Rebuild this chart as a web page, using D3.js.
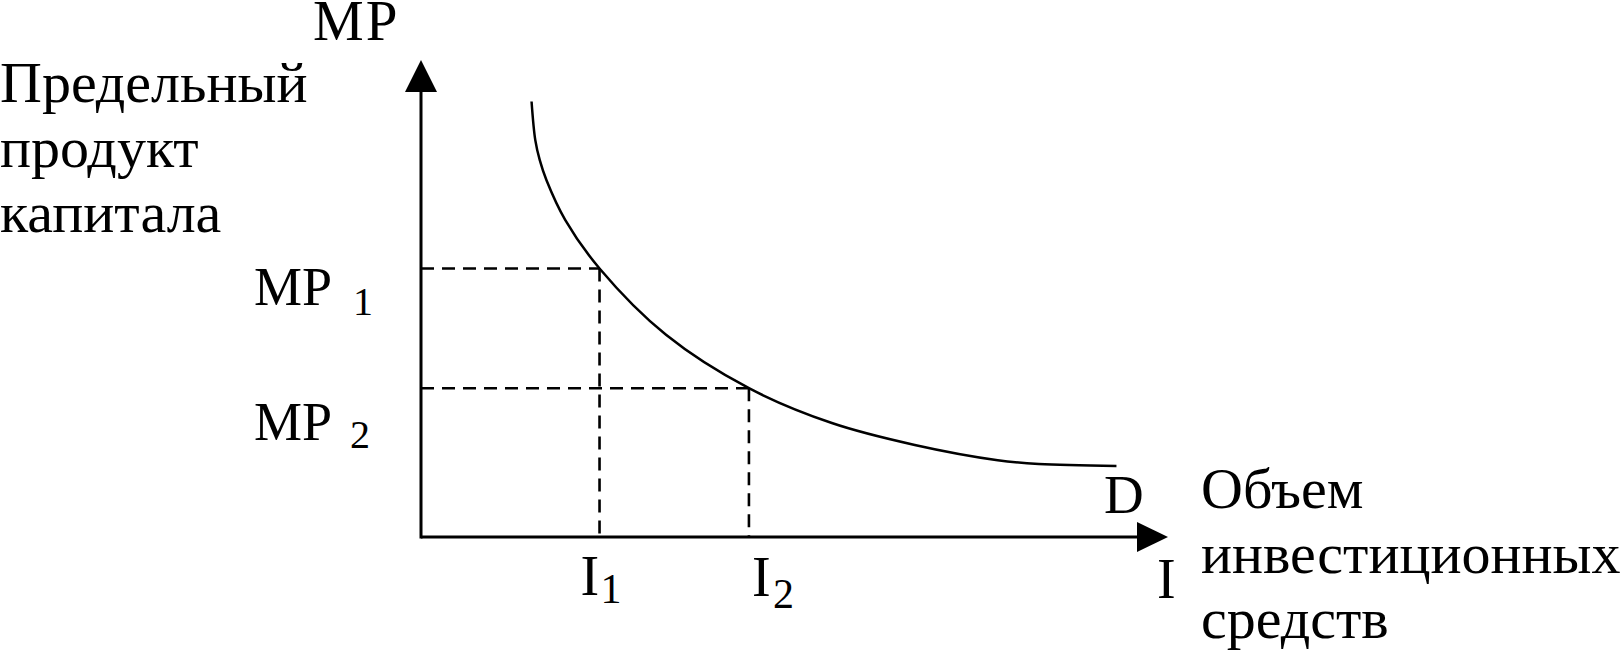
<!DOCTYPE html>
<html><head><meta charset="utf-8">
<script src="https://cdn.jsdelivr.net/npm/d3@7"></script>
<style>html,body{margin:0;padding:0;background:#fff;}svg{display:block;}text{font-family:"Liberation Serif","Times New Roman",serif;fill:#000;}</style>
</head><body>
<script>
// Demand curve for investment (MP of capital vs investment volume), abstract units 0..100
const curveX = [14.8, 15.3, 15.9, 16.8, 19.3, 23.9, 32.8, 43.9, 55.0, 66.1, 77.2, 82.7, 93.1];
const curveY = [91.3, 83.2, 79.0, 74.8, 66.5, 56.3, 42.4, 31.2, 23.9, 19.3, 16.1, 15.3, 14.9];
const investLevels = [23.9, 43.9];   // I1, I2
const mpLevels = [56.3, 31.2];       // MP1, MP2
const yTitleLines = ["Предельный", "продукт", "капитала"];
const xTitleLines = ["Объем", "инвестиционных", "средств"];
const subs = ["1", "2"];

const W = 1623, H = 650;
const svg = d3.select("body").append("svg").attr("width", W).attr("height", H);
const x = d3.scaleLinear().domain([0, 100]).range([421, 1168]);
const y = d3.scaleLinear().domain([0, 100]).range([537, 60]);

// axes
const arrowLen = 31, arrowHalf = 16;
svg.append("line").attr("x1", x(0)).attr("y1", y(0)).attr("x2", x(100) - arrowLen + 2).attr("y2", y(0))
  .attr("stroke", "#000").attr("stroke-width", 3);
svg.append("line").attr("x1", x(0)).attr("y1", y(0) + 1.5).attr("x2", x(0)).attr("y2", y(100) + arrowLen - 2)
  .attr("stroke", "#000").attr("stroke-width", 3);
svg.append("path").attr("d", `M${x(100)},${y(0)} L${x(100) - arrowLen},${y(0) - arrowHalf + 1} L${x(100) - arrowLen},${y(0) + arrowHalf - 1} Z`).attr("fill", "#000");
svg.append("path").attr("d", `M${x(0)},${y(100)} L${x(0) - arrowHalf},${y(100) + arrowLen + 1} L${x(0) + arrowHalf},${y(100) + arrowLen + 1} Z`).attr("fill", "#000");

// dashed guides
investLevels.forEach((iv, k) => {
  const mp = mpLevels[k];
  svg.append("line").attr("x1", x(0)).attr("y1", y(mp)).attr("x2", x(iv)).attr("y2", y(mp))
    .attr("stroke", "#000").attr("stroke-width", 2.6).attr("stroke-dasharray", "13,8");
  svg.append("line").attr("x1", x(iv)).attr("y1", y(mp)).attr("x2", x(iv)).attr("y2", y(0))
    .attr("stroke", "#000").attr("stroke-width", 2.6).attr("stroke-dasharray", "13,8");
});

// curve
const pts = curveX.map((v, i) => [v, curveY[i]]);
svg.append("path").datum(pts)
  .attr("d", d3.line().x(d => x(d[0])).y(d => y(d[1])).curve(d3.curveCatmullRom.alpha(0.5)))
  .attr("fill", "none").attr("stroke", "#000").attr("stroke-width", 2.5);

// texts
svg.append("text").attr("x", 313).attr("y", 40).attr("font-size", 57).attr("letter-spacing", 2).text("MP");
yTitleLines.forEach((t, i) => svg.append("text").attr("x", 0).attr("y", 101.7 + i * 65).attr("font-size", 58).text(t));
xTitleLines.forEach((t, i) => svg.append("text").attr("x", 1201).attr("y", 508 + i * 65).attr("font-size", 58).text(t));

// MP1, MP2 labels
mpLevels.forEach((mp, k) => {
  svg.append("text").attr("x", 254).attr("y", k === 0 ? 305 : 440).attr("font-size", 54).text("MP");
  svg.append("text").attr("x", k === 0 ? 353 : 350).attr("y", k === 0 ? 315 : 448).attr("font-size", 40).text(subs[k]);
});
// I1, I2 labels
investLevels.forEach((iv, k) => {
  svg.append("text").attr("x", k === 0 ? x(iv) - 19 : x(iv) + 3).attr("y", k === 0 ? 595 : 596).attr("font-size", 56).text("I");
  svg.append("text").attr("x", k === 0 ? x(iv) + 1 : x(iv) + 24).attr("y", k === 0 ? 603 : 608).attr("font-size", 42).text(subs[k]);
});
svg.append("text").attr("x", 1104).attr("y", 513).attr("font-size", 55).text("D");
svg.append("text").attr("x", 1157).attr("y", 598).attr("font-size", 56).text("I");
</script>
</body></html>
